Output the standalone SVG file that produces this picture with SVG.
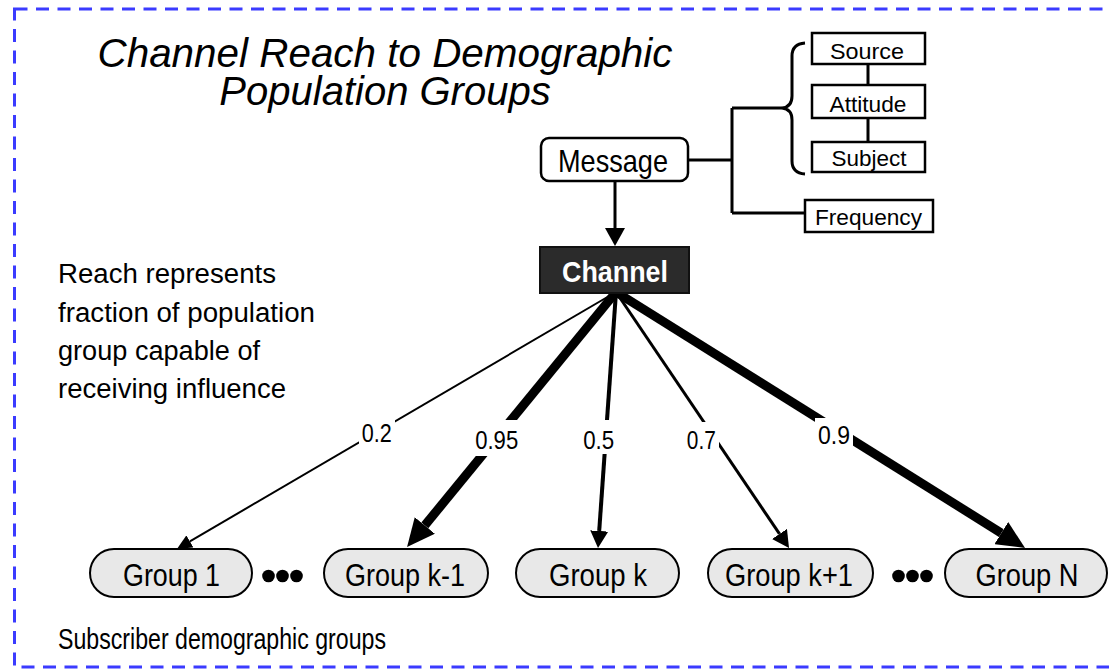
<svg xmlns="http://www.w3.org/2000/svg" width="1109" height="669" viewBox="0 0 1109 669">
<defs>
<style>
.nt{font-family:"Liberation Sans Narrow","Liberation Sans",Arial,sans-serif;fill:#000}
.ttl{font-family:"Liberation Sans",Arial,sans-serif;font-style:italic;font-size:40px;fill:#000;text-anchor:middle}
.grp{fill:#e8e8e8;stroke:#000;stroke-width:2}
.box{fill:#fff;stroke:#000;stroke-width:2.5}
.ln{fill:none;stroke:#000;stroke-width:3}
.edge{fill:none;stroke:#000}
.lbl{fill:#fff;stroke:none}
</style>
<marker id="ahS" markerUnits="userSpaceOnUse" viewBox="0 0 15 14" markerWidth="15" markerHeight="14" refX="0" refY="7" orient="auto"><path d="M0,0 L15,7 L0,14 z" fill="#000"/></marker>
<marker id="ahM" markerUnits="userSpaceOnUse" viewBox="0 0 17 18" markerWidth="17" markerHeight="18" refX="0" refY="9" orient="auto"><path d="M0,0 L17,9 L0,18 z" fill="#000"/></marker>
<marker id="ahL" markerUnits="userSpaceOnUse" viewBox="0 0 28 26" markerWidth="28" markerHeight="26" refX="0" refY="13" orient="auto"><path d="M0,0 L28,13 L0,26 z" fill="#000"/></marker>
<marker id="ahV" markerUnits="userSpaceOnUse" viewBox="0 0 18 20" markerWidth="18" markerHeight="20" refX="0" refY="10" orient="auto"><path d="M0,0 L18,10 L0,20 z" fill="#000"/></marker>
</defs>
<rect x="0" y="0" width="1109" height="669" fill="#fff"/>
<rect x="14.5" y="9" width="1100" height="658" fill="none" stroke="#3b3bff" stroke-width="3" stroke-dasharray="13 8.5"/>

<g id="title">
<text class="ttl" x="385" y="67" textLength="575" lengthAdjust="spacingAndGlyphs">Channel Reach to Demographic</text>
<text class="ttl" x="385" y="105">Population Groups</text>
</g>

<g id="note">
<text class="nt" font-size="27" x="58" y="283" textLength="218" lengthAdjust="spacingAndGlyphs">Reach represents</text>
<text class="nt" font-size="27" x="58" y="322" textLength="257" lengthAdjust="spacingAndGlyphs">fraction of population</text>
<text class="nt" font-size="27" x="58" y="360" textLength="202" lengthAdjust="spacingAndGlyphs">group capable of</text>
<text class="nt" font-size="27" x="58" y="398" textLength="228" lengthAdjust="spacingAndGlyphs">receiving influence</text>
</g>
<g id="footer">
<text class="nt" font-size="30" x="58" y="649" textLength="328" lengthAdjust="spacingAndGlyphs">Subscriber demographic groups</text>
</g>

<g id="connectors">
<path class="ln" d="M688,160 H732 M732,108 V213 M732,108 H782 M732,213 H805"/>
<path class="ln" d="M805,43 Q792,44 792,56 L792,96 Q792,107 782,108 Q792,109 792,120 L792,161 Q792,173 805,174"/>
<path class="ln" stroke-width="3.5" d="M868,64 V85 M868,118 V142"/>
<line class="edge" stroke-width="3" x1="615" y1="181" x2="615" y2="228" marker-end="url(#ahV)"/>
<line class="edge" stroke-width="2" x1="616" y1="292" x2="189.9" y2="541.4" marker-end="url(#ahS)"/>
<line class="edge" stroke-width="9" x1="616" y1="292" x2="424.8" y2="525.4" marker-end="url(#ahL)"/>
<line class="edge" stroke-width="4" x1="616" y1="292" x2="599.2" y2="531" marker-end="url(#ahM)"/>
<line class="edge" stroke-width="3" x1="616" y1="292" x2="779.5" y2="533.9" marker-end="url(#ahM)"/>
<line class="edge" stroke-width="9" x1="616" y1="292" x2="1001.3" y2="533.1" marker-end="url(#ahL)"/>
<rect class="lbl" x="359" y="420" width="36" height="30"/>
<rect class="lbl" x="473" y="420" width="48" height="36"/>
<rect class="lbl" x="581" y="420" width="36" height="34"/>
<rect class="lbl" x="685" y="422" width="34" height="32"/>
<rect class="lbl" x="815" y="418" width="38" height="32"/>
<text class="nt" font-size="26" x="376.7" y="442" text-anchor="middle" textLength="30" lengthAdjust="spacingAndGlyphs">0.2</text>
<text class="nt" font-size="26" x="496.7" y="449" text-anchor="middle" textLength="43" lengthAdjust="spacingAndGlyphs">0.95</text>
<text class="nt" font-size="26" x="598.7" y="449" text-anchor="middle" textLength="31" lengthAdjust="spacingAndGlyphs">0.5</text>
<text class="nt" font-size="26" x="701.3" y="449" text-anchor="middle" textLength="29" lengthAdjust="spacingAndGlyphs">0.7</text>
<text class="nt" font-size="26" x="834" y="444" text-anchor="middle" textLength="32" lengthAdjust="spacingAndGlyphs">0.9</text>
</g>

<g id="message">
<rect class="box" x="541" y="138" width="147" height="43" rx="8"/>
<text class="nt" font-size="32" x="613" y="172" text-anchor="middle" textLength="110" lengthAdjust="spacingAndGlyphs">Message</text>
</g>
<g id="source">
<rect class="box" x="812" y="33" width="113" height="31"/>
<text class="nt" font-size="22" x="867" y="59" text-anchor="middle" textLength="74" lengthAdjust="spacingAndGlyphs">Source</text>
</g>
<g id="attitude">
<rect class="box" x="812" y="85" width="113" height="33"/>
<text class="nt" font-size="22" x="868" y="112" text-anchor="middle" textLength="77" lengthAdjust="spacingAndGlyphs">Attitude</text>
</g>
<g id="subject">
<rect class="box" x="812" y="142" width="113" height="30"/>
<text class="nt" font-size="22" x="869" y="166" text-anchor="middle" textLength="75" lengthAdjust="spacingAndGlyphs">Subject</text>
</g>
<g id="frequency">
<rect class="box" x="805" y="200" width="128" height="32"/>
<text class="nt" font-size="22" x="868.5" y="225" text-anchor="middle" textLength="107" lengthAdjust="spacingAndGlyphs">Frequency</text>
</g>
<g id="channel">
<rect x="540" y="247" width="149" height="46" fill="#2b2b2b" stroke="#111" stroke-width="2"/>
<text class="nt" font-size="30" font-weight="bold" x="615" y="282" text-anchor="middle" style="fill:#fff" textLength="106" lengthAdjust="spacingAndGlyphs">Channel</text>
</g>

<g id="group1">
<rect class="grp" x="90" y="549" width="162" height="48" rx="24"/>
<text class="nt" font-size="32" x="171.5" y="586" text-anchor="middle" textLength="97" lengthAdjust="spacingAndGlyphs">Group 1</text>
</g>
<g id="dots1">
<circle cx="268.5" cy="576" r="6.3"/><circle cx="282.5" cy="576" r="6.3"/><circle cx="296.5" cy="576" r="6.3"/>
</g>
<g id="groupkm1">
<rect class="grp" x="324" y="549" width="164" height="48" rx="24"/>
<text class="nt" font-size="32" x="405" y="586" text-anchor="middle" textLength="120" lengthAdjust="spacingAndGlyphs">Group k-1</text>
</g>
<g id="groupk">
<rect class="grp" x="516" y="549" width="163" height="48" rx="24"/>
<text class="nt" font-size="32" x="598" y="586" text-anchor="middle" textLength="98" lengthAdjust="spacingAndGlyphs">Group k</text>
</g>
<g id="groupkp1">
<rect class="grp" x="708" y="549" width="165" height="48" rx="24"/>
<text class="nt" font-size="32" x="789" y="586" text-anchor="middle" textLength="128" lengthAdjust="spacingAndGlyphs">Group k+1</text>
</g>
<g id="dots2">
<circle cx="898.5" cy="576" r="6.3"/><circle cx="912.5" cy="576" r="6.3"/><circle cx="926.5" cy="576" r="6.3"/>
</g>
<g id="groupN">
<rect class="grp" x="945" y="549" width="162" height="48" rx="24"/>
<text class="nt" font-size="32" x="1027" y="586" text-anchor="middle" textLength="103" lengthAdjust="spacingAndGlyphs">Group N</text>
</g>
</svg>
